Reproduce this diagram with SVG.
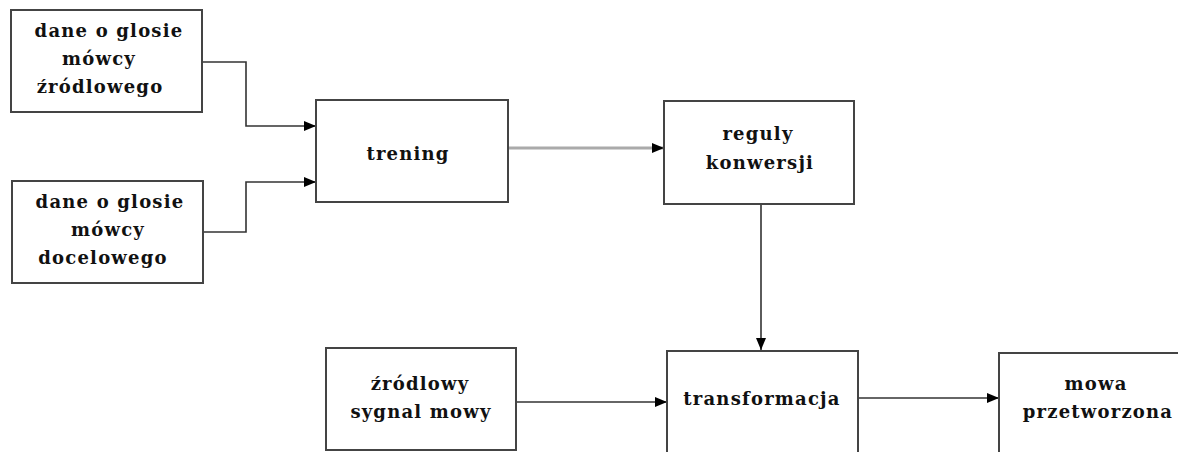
<svg xmlns="http://www.w3.org/2000/svg" width="1178" height="452" viewBox="0 0 1178 452">
<style>
.box{fill:#fff;stroke:#444;stroke-width:2}
.t{font-family:"DejaVu Serif","Liberation Serif",serif;font-weight:bold;font-size:18px;letter-spacing:1.2px;fill:#111;text-anchor:middle}
.c{fill:none;stroke:#333;stroke-width:1.6}
</style>
<defs>
<marker id="ah" viewBox="0 0 12 10" refX="12" refY="5" markerWidth="12" markerHeight="10" markerUnits="userSpaceOnUse" orient="auto">
<path d="M0,0 L12,5 L0,10 z" fill="#000"/>
</marker>
</defs>
<rect width="1178" height="452" fill="#fff"/>
<g id="connectors">
<path class="c" d="M202,62 H246 V126 H316" marker-end="url(#ah)"/>
<path class="c" d="M203,232 H246 V182 H316" marker-end="url(#ah)"/>
<path class="c" d="M508,148 H664" stroke="#999" style="stroke:#aaa;stroke-width:3" marker-end="url(#ah)"/>
<path class="c" d="M761,204 V350" marker-end="url(#ah)"/>
<path class="c" d="M516,402 H667" marker-end="url(#ah)"/>
<path class="c" d="M858,398 H999" marker-end="url(#ah)"/>
</g>
<g id="src-data">
<rect class="box" x="11" y="10" width="191" height="102"/>
<text class="t" x="109" y="37">dane o glosie</text>
<text class="t" x="99" y="65">mówcy</text>
<text class="t" x="100" y="93">źródlowego</text>
</g>
<g id="tgt-data">
<rect class="box" x="12" y="181" width="191" height="102"/>
<text class="t" x="110" y="208">dane o glosie</text>
<text class="t" x="108" y="236">mówcy</text>
<text class="t" x="103" y="264">docelowego</text>
</g>
<g id="trening">
<rect class="box" x="316" y="100" width="192" height="102"/>
<text class="t" x="408" y="160">trening</text>
</g>
<g id="reguly">
<rect class="box" x="664" y="101" width="190" height="103"/>
<text class="t" x="758" y="140">reguly</text>
<text class="t" x="760" y="169">konwersji</text>
</g>
<g id="src-signal">
<rect class="box" x="326" y="348" width="190" height="102"/>
<text class="t" x="420" y="390">źródlowy</text>
<text class="t" x="421" y="418">sygnal mowy</text>
</g>
<g id="transformacja">
<path class="box" d="M667,460 V351 H858 V460"/>
<text class="t" x="762" y="405">transformacja</text>
</g>
<g id="mowa">
<path class="box" d="M999,460 V353 H1190"/>
<text class="t" x="1096" y="390">mowa</text>
<text class="t" x="1098" y="418">przetworzona</text>
</g>
</svg>
